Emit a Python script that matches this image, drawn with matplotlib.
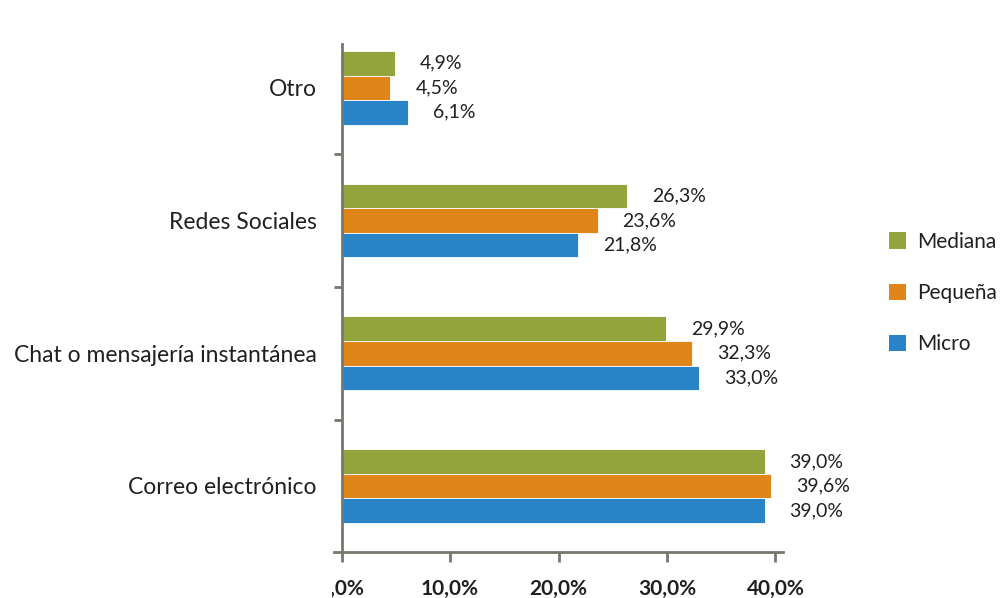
import matplotlib
matplotlib.use("Agg")
import matplotlib.pyplot as plt
from matplotlib.patches import Patch
from matplotlib.transforms import Bbox, TransformedBbox
import numpy as np

# categories bottom -> top
categories = ["Correo electrónico", "Chat o mensajería instantánea", "Redes Sociales", "Otro"]
series = ["Mediana", "Pequeña", "Micro"]
mediana = [39.0, 29.9, 26.3, 4.9]
pequena = [39.6, 32.3, 23.6, 4.5]
micro = [39.0, 33.0, 21.8, 6.1]
xticks = [0, 10, 20, 30, 40]
xticklabels = ["0,0%", "10,0%", "20,0%", "30,0%", "40,0%"]

colors = {"Mediana": "#93A43D", "Pequeña": "#E0851A", "Micro": "#2883C7"}
axis_col = "#77776F"
text_col = "#231F20"

plt.rcParams["font.family"] = ["Lato", "DejaVu Sans"]

fig = plt.figure(figsize=(10, 5.98), dpi=100)
ax = fig.add_axes([0.334, 0.0764, 0.449, 0.850])

y = np.arange(len(categories))
h = 0.185
for vals, name, off in [(mediana, "Mediana", h), (pequena, "Pequeña", 0), (micro, "Micro", -h)]:
    bars = ax.barh(y + off, vals, height=h, color=colors[name],
                   edgecolor="white", linewidth=0.6, label=name)
    for b, v in zip(bars, vals):
        ax.annotate(f"{v:.1f}%".replace(".", ","),
                    (b.get_width(), b.get_y() + b.get_height() / 2),
                    xytext=(18, 0), textcoords="offset points",
                    ha="left", va="center", fontsize=14, color=text_col)

ax.set_xlim(-0.7, 40.7)
ax.set_ylim(-0.5, 3.33)

for s in ["top", "right"]:
    ax.spines[s].set_visible(False)
ax.spines["left"].set_position(("data", 0))
for s in ["left", "bottom"]:
    ax.spines[s].set_color(axis_col)
    ax.spines[s].set_linewidth(2.0)

ax.set_yticks(y)
ax.set_yticklabels(categories, fontsize=16.5, color=text_col)
ax.set_yticks([0.5, 1.5, 2.5], minor=True)
ax.tick_params(axis="y", which="major", length=0, pad=18)
ax.tick_params(axis="y", which="minor", length=6, width=2.0, color=axis_col, direction="out")

ax.set_xticks(xticks)
ax.set_xticklabels(xticklabels, fontsize=15, fontweight="bold", color=text_col)
ax.tick_params(axis="x", length=7, width=2.0, color=axis_col, direction="out", pad=12)

# first label is cut off on its left side in the original
clip = TransformedBbox(Bbox([[0.3315, 0], [1, 1]]), fig.transFigure)
first = ax.get_xticklabels()[0]
first.set_clip_box(clip)
first.set_clip_on(True)

handles = [Patch(facecolor=colors[n], edgecolor="none") for n in series]
fig.legend(handles, series, loc="center left", bbox_to_anchor=(0.889, 0.51),
           frameon=False, fontsize=15, handlelength=0.82, handleheight=0.82,
           handletextpad=0.55, labelspacing=1.5, borderpad=0, borderaxespad=0,
           labelcolor=text_col)

fig.savefig("out.png", dpi=100)
